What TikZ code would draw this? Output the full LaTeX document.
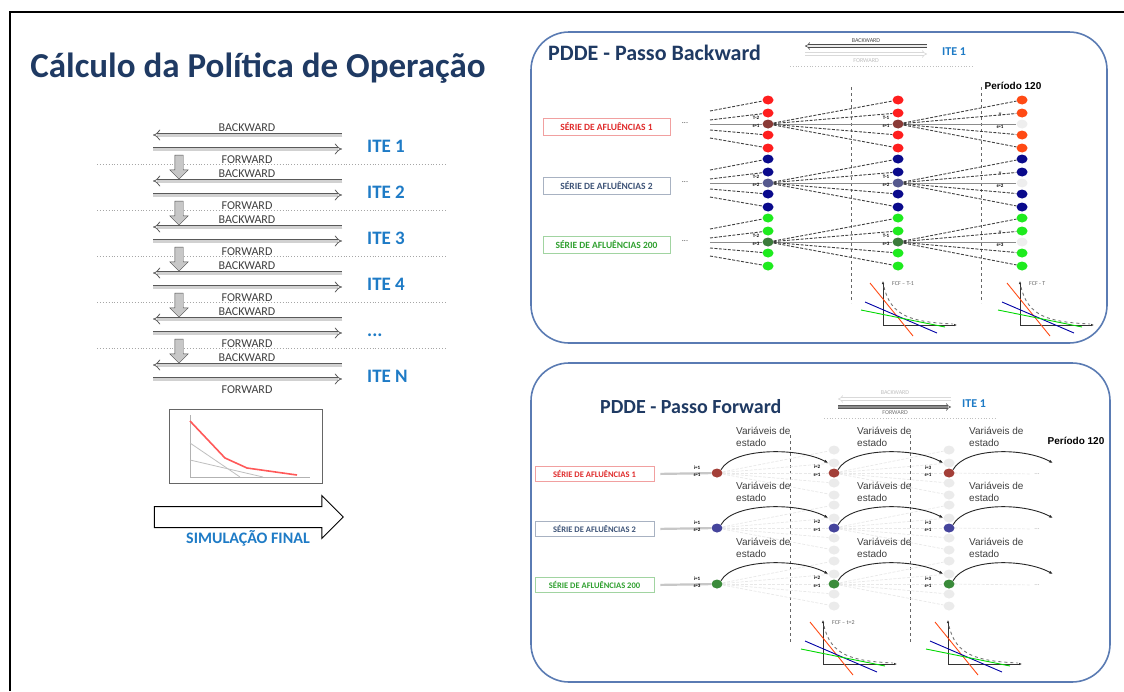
\documentclass[tikz,border=0pt]{standalone}
\usepackage{fontspec}
\setmainfont{Carlito}
\newfontfamily\arialfont{Liberation Sans}
\usetikzlibrary{arrows.meta,positioning,shapes.geometric,shapes.arrows}

\definecolor{titleblue}{HTML}{1F3A63}
\definecolor{iteblue}{HTML}{1E7BC6}
\definecolor{panelblue}{HTML}{5A7BB3}
\definecolor{serR}{HTML}{E02B2B}
\definecolor{serB}{HTML}{3E5478}
\definecolor{serG}{HTML}{2FA02F}
\definecolor{dotR}{HTML}{FF1E1E}
\definecolor{dotO}{HTML}{FF4A14}
\definecolor{dotB}{HTML}{0A0A8C}
\definecolor{dotG}{HTML}{1EEB1E}
\definecolor{midR}{HTML}{8A3A36}
\definecolor{midB}{HTML}{55598E}
\definecolor{midG}{HTML}{3B7A3B}
\definecolor{midN}{HTML}{EEEEEE}
\definecolor{fwdR}{HTML}{A33F38}
\definecolor{fwdB}{HTML}{45449C}
\definecolor{fwdG}{HTML}{3A8B3A}
\definecolor{faint}{HTML}{EBEBEB}
\definecolor{txtgray}{HTML}{404040}

\newcommand\itedots{...}
% small cost-function chart, origin x, origin y, label
\newcommand\fcfplot[3]{%
  \draw[fcfaxis] (#1,#2) -- (#1,#2-44);
  \draw[fcfaxis] (#1,#2) -- (#1+74,#2);
  \draw[line width=0.9pt,dotO] (#1-13,#2-42) -- (#1+30,#2+11);
  \draw[line width=0.9pt,blue!65!black] (#1-18,#2-23) -- (#1+54,#2+8);
  \draw[line width=0.9pt,green!85!black] (#1-22,#2-15) -- (#1+62,#2+2);
  \draw[dashed,line width=0.9pt,black!55] (#1+1,#2-38) .. controls (#1+8,#2-8) and (#1+30,#2-3) .. (#1+70,#2-1);
  \node[fcflbl,anchor=west] at (#1+9,#2-41) {#3};
}

\begin{document}
\begin{tikzpicture}[x=1pt,y=-1pt,
  bigarr/.style={draw=black!65,line width=0.8pt,double=black!18,double distance=3pt,-Implies},
  smallarr/.style={line width=0.6pt,double distance=2pt,-Implies},
  downarr/.style={single arrow,draw=black!70,fill=black!22,rotate=-90,minimum height=24pt,single arrow head extend=5pt,inner sep=4pt},
  arrlbl/.style={font=\fontsize{12}{12}\selectfont,text=txtgray,inner sep=0pt},
  hdrlbl/.style={font=\fontsize{6}{6}\selectfont,inner sep=0pt},
  ite/.style={font=\fontsize{19}{19}\selectfont\bfseries,text=iteblue,anchor=base west,inner sep=0pt},
  panel/.style={draw=panelblue,line width=1.6pt,rounded corners=38pt},
  ptitle/.style={font=\fontsize{20}{20}\selectfont\bfseries,text=titleblue,inner sep=0pt,anchor=west},
  serie/.style={draw=#1!45,text=#1,font=\fontsize{9.5}{10}\selectfont\bfseries,minimum width=127pt,minimum height=17pt,inner sep=0pt,line width=0.8pt},
  nodedot/.style={ellipse,minimum width=11pt,minimum height=9pt,inner sep=0pt},
  dline/.style={dash pattern=on 3pt off 1.5pt,line width=0.9pt,black!75},
  sline/.style={line width=0.5pt,black!45},
  fline/.style={dash pattern=on 3pt off 1.5pt,line width=0.7pt,black!9},
  idxlbl/.style={font=\fontsize{5}{5}\selectfont\bfseries,inner sep=0pt},
  varlbl/.style={font=\arialfont\fontsize{10}{12}\selectfont,text=txtgray,align=left,anchor=west,inner sep=0pt},
  periodo/.style={font=\arialfont\bfseries\fontsize{10}{10}\selectfont,inner sep=0pt},
  curvearr/.style={line width=0.9pt,black!85,-{Latex[length=4pt,width=3pt]}},
  fcfaxis/.style={line width=0.8pt,black!80,-{Latex[length=3pt,width=2.5pt]}},
  fcflbl/.style={font=\fontsize{6}{6}\selectfont,text=black!60,inner sep=0pt},
  ]
\fill[white] (0,0) rectangle (1124,691);
\useasboundingbox (0,0) rectangle (1124,691);
\draw[line width=1.5pt] (10,691) -- (10,12) -- (1124,12);

% left column
\node[font=\fontsize{35}{35}\selectfont\bfseries,text=titleblue] (T) at (258,68) {Cálculo da Política de Operação};
\foreach \i/\t in {0/ITE 1,1/ITE 2,2/ITE 3,3/ITE 4,4/\itedots,5/ITE N} {
  \pgfmathsetmacro\yb{135+46*\i}
  \pgfmathsetmacro\yf{149+46*\i}
  \ifnum\i<5
    \draw[dotted,black!35,line width=0.9pt] (97,\yf+15) -- (447,\yf+15);
  \fi
  \coordinate (BR\i) at (342,\yb);
  \coordinate (BL\i) at (153,\yb);
  \coordinate (FL\i) at (153,\yf);
  \coordinate (FR\i) at (342,\yf);
  \draw[bigarr] (BR\i) -- (BL\i);
  \draw[bigarr] (FL\i) -- (FR\i);
  \node[arrlbl] (BT\i) at (247,\yb-7) {BACKWARD};
  \node[arrlbl] (FT\i) at (247,\yf+11) {FORWARD};
  \node[ite] (I\i) at (367,\yf+3) {\t};
  \ifnum\i<5
    \node[downarr] (D\i) at (179,\yf+16) {};
  \fi
}
\draw[black!60,line width=0.8pt] (169,409) rectangle (322,483);
\draw[black!30,line width=0.6pt] (190,415) -- (190,477) -- (310,477);
\draw[black!25,line width=0.8pt] (190,443) -- (240,477);
\draw[black!25,line width=0.8pt] (190,460) -- (263,477);
\draw[red!65,line width=1.6pt] (190,421) -- (225,458) -- (247,468) -- (297,475);
\node[single arrow,draw,line width=1pt,minimum height=189pt,single arrow head extend=11pt,inner sep=10pt] (SF) at (243.5,517) {};
\node[font=\fontsize{16}{16}\selectfont\bfseries,text=iteblue] (SL) at (248,538) {SIMULAÇÃO FINAL};

% backward panel
\draw[panel] (531,32) rectangle (1107,343);
\node[ptitle,font=\fontsize{22}{22}\selectfont\bfseries] (PB) at (548,53) {PDDE - Passo Backward};
\draw[smallarr,draw=black!70,double=black!8] (927,46) -- (805,46);
\draw[smallarr,draw=black!15,double=white] (805,54) -- (927,54);
\node[hdrlbl,text=black!70] (HB) at (866,41) {BACKWARD};
\node[hdrlbl,text=black!25] (HF) at (866,61) {FORWARD};
\draw[dotted,black!25,line width=0.8pt] (790,66) -- (973,66);
\node[ite,font=\fontsize{12}{12}\selectfont\bfseries,anchor=west] (HI) at (942,52) {ITE 1};
\draw[dashed,black!60,line width=0.6pt] (851,87) -- (851,303);
\draw[dashed,black!60,line width=0.6pt] (981,87) -- (981,303);
\node[periodo] (P1) at (1013,86) {Período 120};
\foreach \g/\c/\sc/\st in {1/124/serR/1,2/183/serB/2,3/242/serG/200} {
  \node[serie=\sc] (SA\g) at (606.5,\c+3) {SÉRIE DE AFLUÊNCIAS \st};
  \node[font=\fontsize{8}{8}\selectfont,text=txtgray] (DA\g) at (685,\c-1) {...};
}
\foreach \k/\x/\rc/\mr/\mb/\mg in {1/768/dotR/midR/midB/midG,2/898/dotR/midR/midB/midG,3/1022/dotO/midN/midN/midN}
  \foreach \g/\c/\oc/\cc in {1/124/\rc/\mr,2/183/dotB/\mb,3/242/dotG/\mg} {
    \node[nodedot,fill=\cc] (N\g\k3) at (\x,\c) {};
    \foreach \j/\d in {1/-24,2/-11,4/11,5/24}
      \node[nodedot,fill=\oc] (N\g\k\j) at (\x,\c+\d) {};
  }
\foreach \g/\c in {1/124,2/183,3/242} {
  \foreach \j/\e in {1/-13,2/-4,3/0,4/6,5/14}
    \coordinate (L\g\j) at (710,\c+\e);
  \draw[sline] (L\g3) -- (N\g13);
  \draw[sline] (N\g13) -- (N\g23);
  \draw[sline] (N\g23) -- (N\g33);
  \foreach \j in {1,2,4,5} {
    \draw[dline] (L\g\j) -- (N\g1\j);
    \draw[dline] (N\g13) -- (N\g2\j);
    \draw[dline] (N\g23) -- (N\g3\j);
  }
  \node[idxlbl] (TA\g) at (756,\c-6) {T-2};
  \node[idxlbl,below=4pt of TA\g] (SA\g) {s=\g};
  \node[idxlbl] (TB\g) at (886,\c-6) {T-1};
  \node[idxlbl,below=4pt of TB\g] (SB\g) {s=\g};
  \node[idxlbl] (TC\g) at (1000,\c-9) {T};
  \node[idxlbl,below=8pt of TC\g] (SC\g) {s=\g};
}
\fcfplot{883}{325}{FCF -- T-1}
\fcfplot{1020}{325}{FCF - T}

% forward panel
\draw[panel] (531,363) rectangle (1110,682);
\node[ptitle] (PF) at (600,407) {PDDE - Passo Forward};
\draw[smallarr,draw=black!15,double=white] (951,399) -- (838,399);
\draw[smallarr,draw=black!65,double=black!45] (838,407) -- (951,407);
\node[hdrlbl,text=black!25] (FB) at (895,393) {BACKWARD};
\node[hdrlbl,text=black!55] (FF) at (895,413) {FORWARD};
\draw[dotted,black!25,line width=0.8pt] (824,418) -- (995,418);
\node[ite,font=\fontsize{12}{12}\selectfont\bfseries,anchor=west] (FI) at (962,404) {ITE 1};
\draw[dashed,black!60,line width=0.6pt] (790,435) -- (790,643);
\draw[dashed,black!60,line width=0.6pt] (910,435) -- (910,643);
\node[periodo] (P2) at (1076,441) {Período 120};
\foreach \g/\c/\fc/\sc/\st in {1/473/fwdR/serR/1,2/528/fwdB/serB/2,3/584/fwdG/serG/200} {
  \node[serie=\sc,minimum width=119pt,minimum height=15pt,font=\fontsize{8.5}{9}\selectfont\bfseries] (SB\g) at (594.5,\c+1) {SÉRIE DE AFLUÊNCIAS \st};
  \foreach \k/\x in {2/834,3/949}
    \foreach \j/\d in {1/-23,2/-10,4/10,5/22}
      \node[nodedot,fill=faint] (G\g\k\j) at (\x,\c+\d) {};
  \foreach \k/\x in {1/717,2/834,3/949}
    \node[nodedot,fill=\fc] (F\g\k) at (\x,\c) {};
  \node[font=\fontsize{7}{7}\selectfont,text=black!35] (E\g) at (1037,\c+1) {...};
  \draw[line width=2.2pt,black!22,shorten <=6pt] (SB\g.east) -- (F\g1);
  \foreach \j in {1,2,4,5} {
    \draw[fline] (F\g1) -- (G\g2\j);
    \draw[fline] (F\g2) -- (G\g3\j);
  }
  \draw[fline] (F\g1) -- (F\g2);
  \draw[fline] (F\g2) -- (F\g3);
  \draw[fline] (F\g3) -- (E\g);
  \coordinate (R\g) at (1053,\c-10);
  \draw[curvearr] (F\g1.north east) .. controls +(12,-22) and +(-30,-16) .. (G\g22.west);
  \draw[curvearr] (F\g2.north east) .. controls +(12,-22) and +(-30,-16) .. (G\g32.west);
  \draw[curvearr] (F\g3.north east) .. controls +(12,-22) and +(-30,-16) .. (R\g);
  \foreach \k/\x in {1/736,2/857,3/969}
    \node[varlbl] (V\g\k) at (\x,\c-36) {Variáveis de\\estado};
  \node[idxlbl] (IA\g) at (697,\c-5) {i=1};
  \node[idxlbl,below=3pt of IA\g] (JA\g) {s=\g};
  \node[idxlbl] (IB\g) at (817,\c-6) {i=2};
  \node[idxlbl,below=4pt of IB\g] (JB\g) {s=1};
  \node[idxlbl] (IC\g) at (928,\c-5) {i=3};
  \node[idxlbl,below=3pt of IC\g] (JC\g) {s=1};
}
\fcfplot{823}{664}{FCF -- t=2}
\fcfplot{948}{664}{}
\end{tikzpicture}
\end{document}
